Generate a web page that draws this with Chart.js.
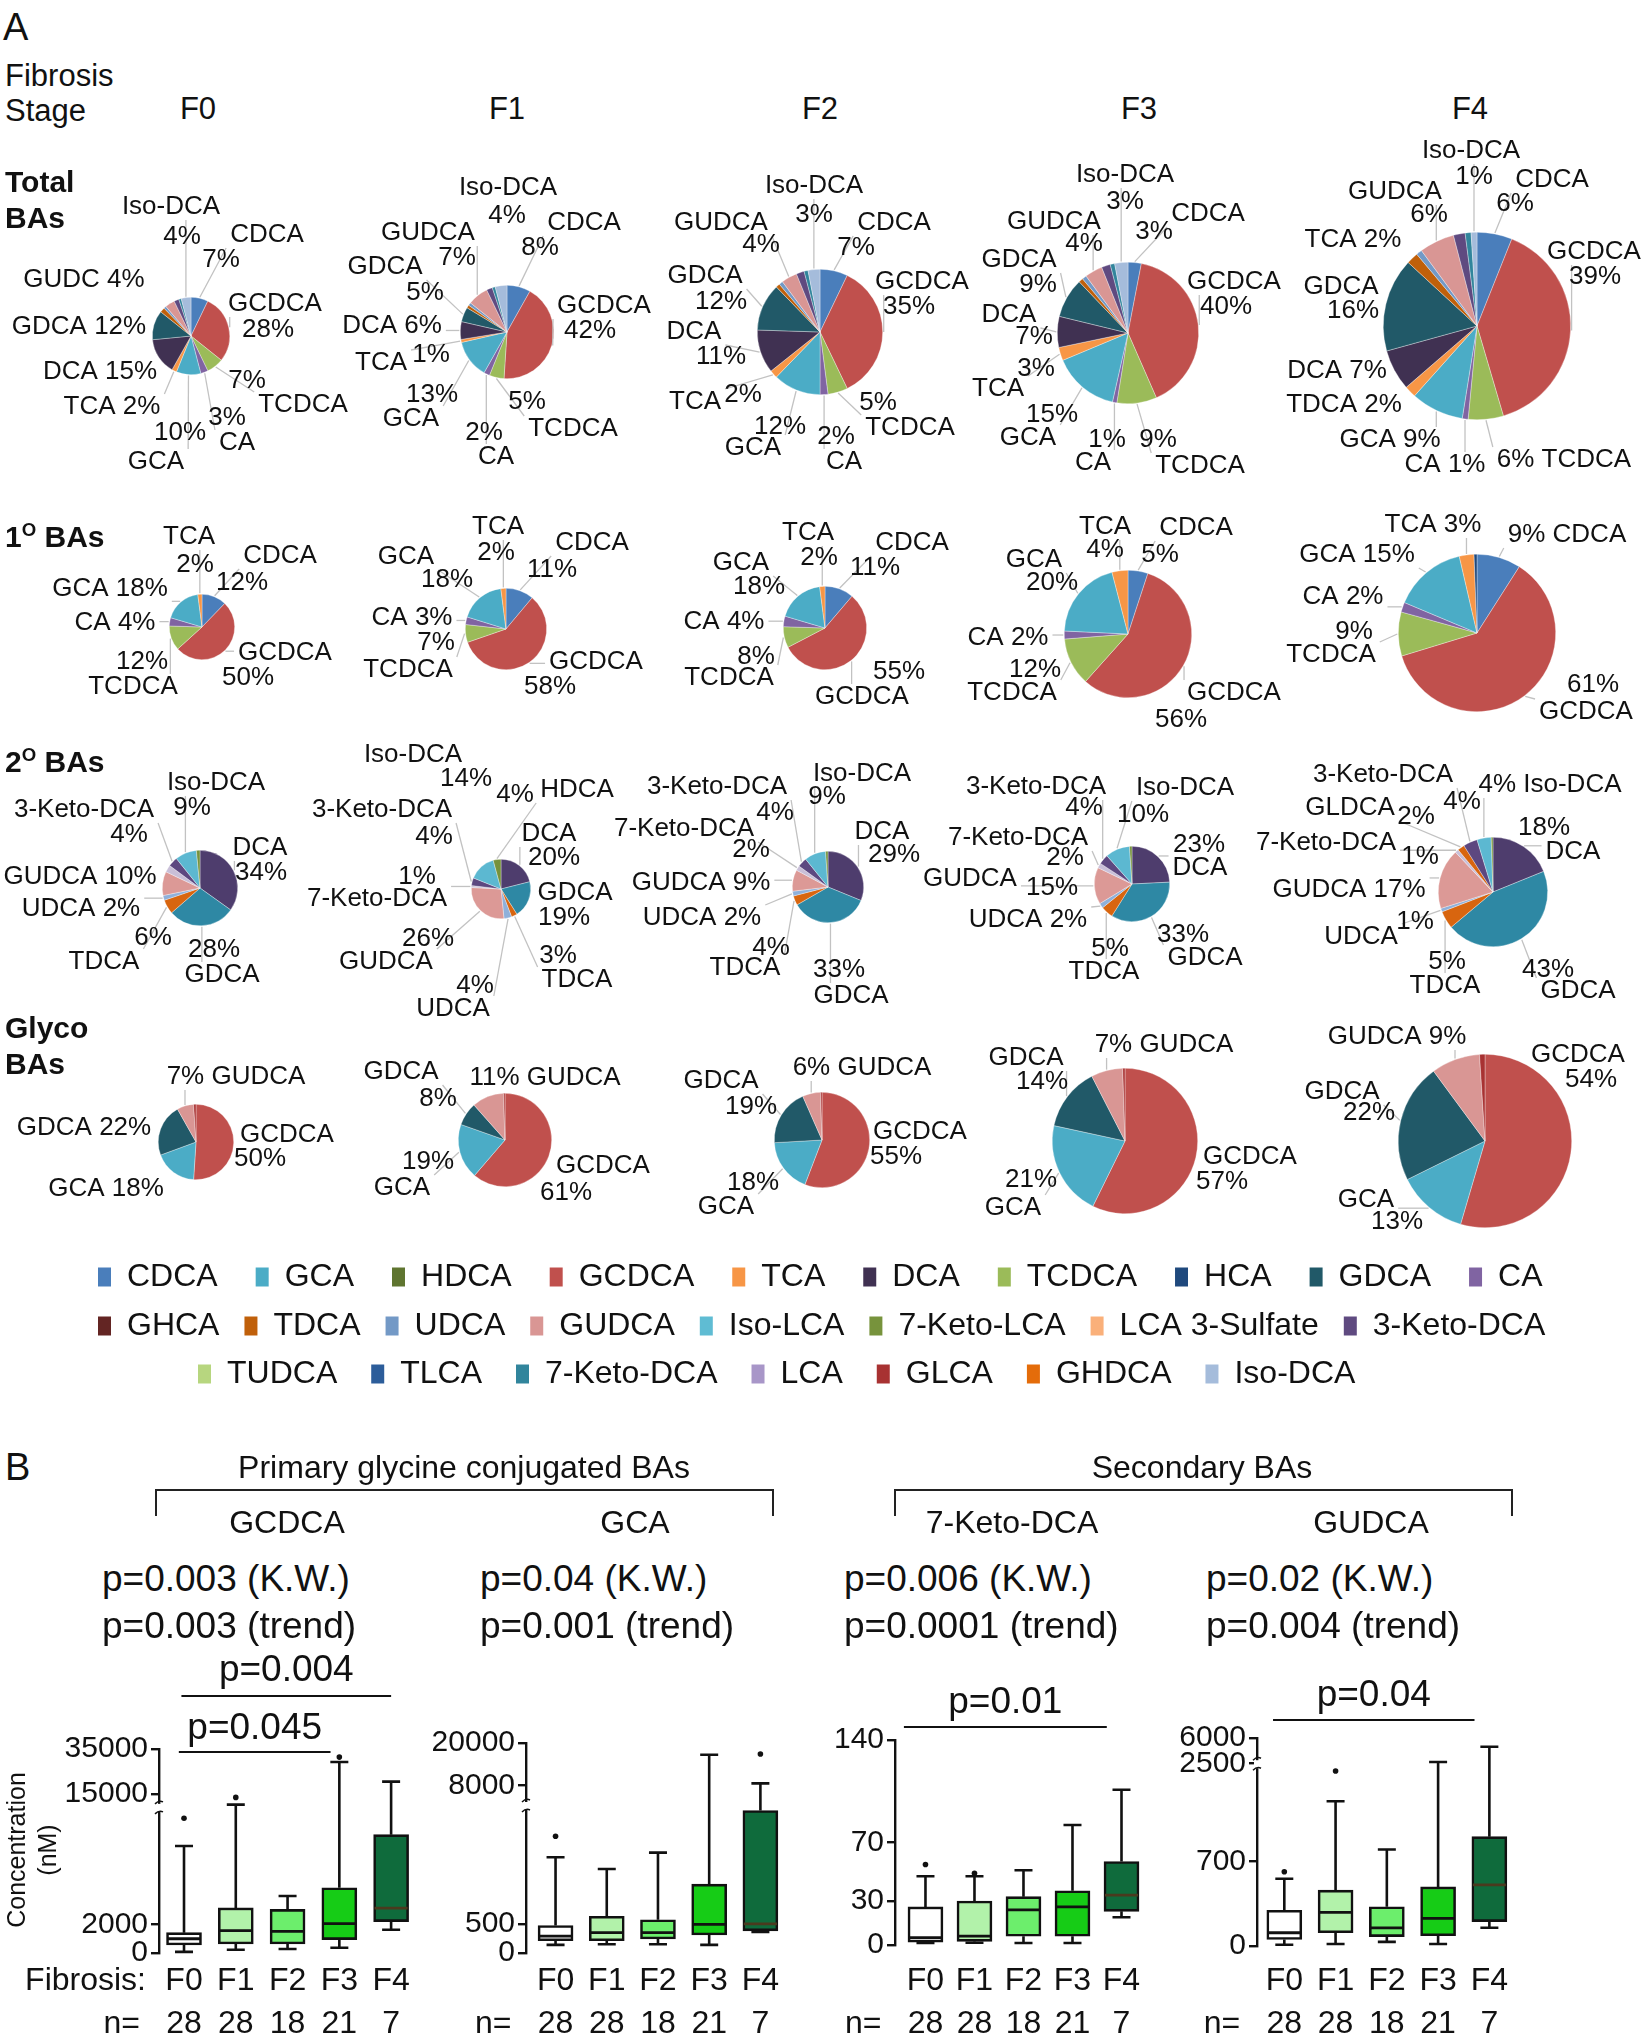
<!DOCTYPE html>
<html><head><meta charset="utf-8">
<script src="https://cdn.jsdelivr.net/npm/chart.js@4.4.1/dist/chart.umd.min.js"></script>
<style>
html,body{margin:0;padding:0;background:#fff;}
#page{position:relative;width:1647px;height:2040px;overflow:hidden;font-family:'Liberation Sans',Arial,Helvetica,sans-serif;color:#111;background:#fff;}
.t{position:absolute;white-space:nowrap;line-height:1;}
canvas{position:absolute;}
.br{position:absolute;border:2px solid #222;border-bottom:none;box-sizing:border-box;}
</style></head><body><div id="page"></div>
<script>
// ---------------- DATA ----------------
const stages = ['F0','F1','F2','F3','F4'];
const nPerStage = [28,28,18,21,7];

const legendNames = ['CDCA','GCA','HDCA','GCDCA','TCA','DCA','TCDCA','HCA','GDCA','CA',
  'GHCA','TDCA','UDCA','GUDCA','Iso-LCA','7-Keto-LCA','LCA 3-Sulfate','3-Keto-DCA',
  'TUDCA','TLCA','7-Keto-DCA','LCA','GLCA','GHDCA','Iso-DCA'];
const legendColors = ['#4a7ebb','#4bacc6','#5f7530','#c0504d','#f79646','#403152','#9bbb59','#1f497d','#215968','#8064a2',
  '#632523','#c0600a','#7399c6','#d99694','#5fbcd3','#77933c','#fab07a','#5f4a80',
  '#b7d67f','#2c5d9a','#31859c','#a896c8','#a83232','#e46c0a','#a5bcdb'];

// Pie slices, clockwise from 12 o'clock, percent of bile acids
const totalNames = ['CDCA','GCDCA','TCDCA','CA','GCA','TCA','DCA','GDCA','TDCA','UDCA','GUDCA','3-Keto-DCA','7-Keto-DCA','Iso-DCA'];
const totalF0 = [7,28,7,3,10,2,15,12,2,1,4,2,1,4];
const totalF1 = [8,42,5,2,13,1,6,5,1,1,7,2,1,4];
const totalF2 = [7,35,5,2,12,2,11,12,1,1,4,2,1,3];
const totalF3 = [3,40,9,1,15,3,7,9,1,1,4,2,1,3];
const totalF4 = [6,39,6,1,9,2,7,16,2,1,6,2,1,1];

const primaryNames = ['CDCA','GCDCA','TCDCA','CA','GCA','TCA','HCA'];
const primaryF0 = [12,50,12,4,18,2,0];
const primaryF1 = [11,58,7,3,18,2,0];
const primaryF2 = [11,55,8,4,18,2,0];
const primaryF3 = [5,56,12,2,20,4,0];
const primaryF4 = [9,61,9,2,15,3,0.6];

const secondaryNames = ['DCA','GDCA','TDCA','UDCA','GUDCA','7-Keto-DCA','GLDCA','3-Keto-DCA','Iso-DCA','HDCA'];
const secondaryF0 = [34,28,6,2,10,3,0,4,9,1.5];
const secondaryF1 = [20,19,3,4,26,1,0,4,14,4];
const secondaryF2 = [29,33,4,2,9,2,0,4,9,1];
const secondaryF3 = [23,33,5,2,15,2,0,4,10,1];
const secondaryF4 = [18,43,5,1,17,1,2,4,4,0.5];

const glycoNames = ['GCDCA','GCA','GDCA','GUDCA','GLCA'];
const glycoF0 = [50,18,22,7,1];
const glycoF1 = [61,19,8,11,0.5];
const glycoF2 = [55,18,19,6,0.5];
const glycoF3 = [57,21,14,7,0.5];
const glycoF4 = [54,13,22,9,1];

// Box plots: [low whisker, Q1, median, Q3, high whisker] per stage (nM)
const gcdcaBox = [[80,560,1000,1425,7500],[225,630,1570,3160,10300],[280,630,1515,3060,4000],[365,940,2060,4575,29200],[1630,2200,3140,8300,20500]];
const gcdcaOut = [[9450],[13500],[],[31400],[]];
const gcdcaTicks = [0,2000,15000,35000];
const gcaBox = [[140,210,290,470,1640],[150,210,350,630,1440],[150,240,350,570,1720],[140,310,490,1180,16700],[360,380,500,2440,8600]];
const gcaOut = [[2000],[],[],[],[16900]];
const gcaTicks = [0,500,8000,20000];
const keto7Box = [[1.4,2,5,26,47],[1.5,2.5,6,30,47],[1.4,6,24,33,51],[1.4,6,26,37,82],[19,23,34,57,106]];
const keto7Out = [[55],[49],[],[],[]];
const keto7Ticks = [0,30,70,140];
const gudcaBox = [[10,54,110,296,557],[17,110,279,463,1200],[34,78,151,325,800],[17,85,229,490,2700],[151,202,507,906,4800]];
const gudcaOut = [[615],[1450],[],[],[]];
const gudcaTicks = [0,700,2500,6000];

// ---------------- LAYOUT / STYLE ----------------
const FONT = "'Liberation Sans', Arial, Helvetica, sans-serif";
Chart.defaults.font.family = FONT;
Chart.defaults.color = '#111';
const page = document.getElementById('page');

function makeCanvas(id, left, top, w, h){
  const c = document.createElement('canvas');
  c.id = id; c.width = Math.round(w); c.height = Math.round(h);
  c.style.left = left+'px'; c.style.top = top+'px';
  c.style.width = Math.round(w)+'px'; c.style.height = Math.round(h)+'px';
  page.appendChild(c); return c;
}
function txt(html, x, y, size, opt){
  opt = opt || {};
  const d = document.createElement('div'); d.className = 't'; d.innerHTML = html;
  d.style.fontSize = size+'px'; d.style.left = x+'px'; d.style.top = y+'px';
  if (opt.bold) d.style.fontWeight = 'bold';
  const ax = opt.anchor === 'c' ? '-50%' : (opt.anchor === 'r' ? '-100%' : '0');
  d.style.transform = 'translate(' + ax + ',-50%)' + (opt.rotate ? ' rotate(' + opt.rotate + 'deg)' : '');
  page.appendChild(d); return d;
}

// pie geometry [cx, cy, r]
const totalGeom = [[191,336,39],[507,332,47],[820,332,63],[1128,333,71],[1477,326,94]];
const primaryGeom = [[202,627,33],[506,629,41],[825,628,42],[1128,634,64],[1477,633,79]];
const secondaryGeom = [[200,888,38],[501,889,30],[828,887,36],[1132,884,38],[1493,892,55]];
const glycoGeom = [[196,1142,38],[505,1140,47],[822,1140,48],[1125,1141,73],[1485,1141,87]];

// pie label placement (text, page x, page y)
const totalLabels = [
 [['Iso-DCA',171,207],['4%',182,237],['CDCA',267,235],['7%',221,260],['GUDC 4%',84,280],['GCDCA',275,304],['28%',268,330],['GDCA 12%',79,327],['DCA 15%',100,372],['7%',247,381],['TCDCA',303,405],['TCA 2%',112,407],['3%',227,418],['CA',237,443],['10%',180,433],['GCA',156,462]],
 [['Iso-DCA',508,188],['4%',507,216],['CDCA',584,223],['8%',540,248],['GUDCA',428,233],['7%',457,258],['GDCA',385,267],['5%',425,293],['GCDCA',604,306],['42%',590,331],['DCA 6%',392,326],['TCA',381,363],['1%',431,355],['13%',432,395],['GCA',411,419],['5%',527,402],['TCDCA',573,429],['2%',484,433],['CA',496,457]],
 [['Iso-DCA',814,186],['3%',814,215],['CDCA',894,223],['7%',856,248],['GUDCA',721,223],['4%',761,245],['GDCA',705,276],['12%',721,302],['GCDCA',922,282],['35%',909,307],['DCA',694,332],['11%',721,357],['TCA',695,402],['2%',743,395],['12%',780,427],['GCA',753,448],['2%',836,437],['CA',844,462],['5%',878,403],['TCDCA',910,428]],
 [['Iso-DCA',1125,175],['3%',1125,202],['CDCA',1208,214],['3%',1154,232],['GUDCA',1054,222],['4%',1084,244],['GDCA',1019,260],['9%',1038,285],['GCDCA',1234,282],['40%',1226,307],['DCA',1009,315],['7%',1034,337],['3%',1036,369],['TCA',998,389],['15%',1052,415],['GCA',1028,438],['1%',1107,440],['CA',1093,463],['9%',1158,440],['TCDCA',1200,466]],
 [['Iso-DCA',1471,151],['1%',1474,177],['CDCA',1552,180],['6%',1515,204],['GUDCA',1395,192],['6%',1429,215],['TCA 2%',1353,240],['GCDCA',1594,252],['39%',1595,277],['GDCA',1341,287],['16%',1353,311],['DCA 7%',1337,371],['TDCA 2%',1344,405],['GCA 9%',1390,440],['CA 1%',1445,465],['6% TCDCA',1564,460]]
];
const primaryLabels = [
 [['TCA',189,537],['2%',195,565],['CDCA',280,556],['12%',242,583],['GCA 18%',110,589],['CA 4%',115,623],['GCDCA',285,653],['50%',248,678],['12%',142,662],['TCDCA',133,687]],
 [['TCA',498,527],['2%',496,553],['CDCA',592,543],['11%',552,570],['GCA',406,557],['18%',447,580],['CA 3%',412,618],['7%',436,643],['TCDCA',408,670],['GCDCA',596,662],['58%',550,687]],
 [['TCA',808,533],['2%',819,558],['CDCA',912,543],['11%',875,568],['GCA',741,563],['18%',759,587],['CA 4%',724,622],['8%',756,657],['TCDCA',729,678],['55%',899,672],['GCDCA',862,697]],
 [['TCA',1105,527],['4%',1105,550],['CDCA',1196,528],['5%',1160,555],['GCA',1034,560],['20%',1052,583],['CA 2%',1008,638],['12%',1035,670],['TCDCA',1012,693],['GCDCA',1234,693],['56%',1181,720]],
 [['TCA 3%',1433,525],['9% CDCA',1567,535],['GCA 15%',1357,555],['CA 2%',1343,597],['9%',1354,632],['TCDCA',1331,655],['61%',1593,685],['GCDCA',1586,712]]
];
const secondaryLabels = [
 [['Iso-DCA',216,783],['9%',192,808],['3-Keto-DCA',84,810],['4%',129,835],['DCA',260,848],['34%',261,873],['GUDCA 10%',80,877],['UDCA 2%',81,909],['6%',153,938],['TDCA',104,962],['28%',214,950],['GDCA',222,975]],
 [['Iso-DCA',413,755],['14%',466,779],['4%',515,795],['HDCA',577,790],['3-Keto-DCA',382,810],['4%',434,837],['DCA',549,834],['20%',554,858],['1%',417,877],['7-Keto-DCA',377,899],['GDCA',575,893],['19%',564,918],['26%',428,939],['GUDCA',386,962],['3%',558,956],['TDCA',577,980],['4%',475,986],['UDCA',453,1009]],
 [['3-Keto-DCA',717,787],['4%',775,813],['Iso-DCA',862,774],['9%',827,797],['7-Keto-DCA',684,829],['2%',751,850],['DCA',882,832],['29%',894,855],['GUDCA 9%',701,883],['UDCA 2%',702,918],['4%',771,948],['TDCA',745,968],['33%',839,970],['GDCA',851,996]],
 [['3-Keto-DCA',1036,787],['4%',1084,808],['Iso-DCA',1185,788],['10%',1143,815],['7-Keto-DCA',1018,838],['2%',1065,858],['23%',1199,845],['DCA',1200,868],['GUDCA',970,879],['15%',1052,888],['UDCA 2%',1028,920],['5%',1110,949],['TDCA',1104,972],['33%',1183,935],['GDCA',1205,958]],
 [['3-Keto-DCA',1383,775],['4%',1462,802],['4% Iso-DCA',1550,785],['GLDCA',1350,808],['2%',1416,817],['18%',1544,828],['DCA',1573,852],['7-Keto-DCA',1326,843],['1%',1420,857],['GUDCA 17%',1349,890],['1%',1415,922],['UDCA',1361,937],['5%',1447,962],['TDCA',1445,986],['43%',1548,970],['GDCA',1578,991]]
];
const glycoLabels = [
 [['7% GUDCA',236,1077],['GDCA 22%',84,1128],['GCDCA',287,1135],['50%',260,1159],['GCA 18%',106,1189]],
 [['GDCA',401,1072],['8%',438,1099],['11% GUDCA',545,1078],['19%',428,1162],['GCA',402,1188],['GCDCA',603,1166],['61%',566,1193]],
 [['GDCA',721,1081],['19%',751,1107],['6% GUDCA',862,1068],['GCDCA',920,1132],['55%',896,1157],['18%',753,1183],['GCA',726,1207]],
 [['GDCA',1026,1058],['14%',1042,1082],['7% GUDCA',1164,1045],['GCDCA',1250,1157],['57%',1222,1182],['21%',1031,1180],['GCA',1013,1208]],
 [['GUDCA 9%',1397,1037],['GCDCA',1578,1055],['54%',1591,1080],['GDCA',1342,1092],['22%',1369,1113],['GCA',1366,1200],['13%',1397,1222]]
];
const secondaryColors = {'DCA':'#4e3d6d','GDCA':'#2e88a4','TDCA':'#d8650f','UDCA':'#8fb0da','GUDCA':'#dc9996',
  '7-Keto-DCA':'#c9bfd8','GLDCA':'#d8650f','3-Keto-DCA':'#5d4880','Iso-DCA':'#5cb8d1','HDCA':'#76923c'};

function colorOf(name, over){
  if (over && over[name]) return over[name];
  const i = legendNames.indexOf(name);
  return i >= 0 ? legendColors[i] : '#999';
}

const pieRows = [
  {key:'tot', names: totalNames, values:[totalF0,totalF1,totalF2,totalF3,totalF4], geom: totalGeom, labels: totalLabels, over:null},
  {key:'pri', names: primaryNames, values:[primaryF0,primaryF1,primaryF2,primaryF3,primaryF4], geom: primaryGeom, labels: primaryLabels, over:null},
  {key:'sec', names: secondaryNames, values:[secondaryF0,secondaryF1,secondaryF2,secondaryF3,secondaryF4], geom: secondaryGeom, labels: secondaryLabels, over:secondaryColors},
  {key:'gly', names: glycoNames, values:[glycoF0,glycoF1,glycoF2,glycoF3,glycoF4], geom: glycoGeom, labels: glycoLabels, over:null}
];

const PW = 540, PH = 380;
const pieLabelPlugin = {
  id: 'pieLabels',
  afterDatasetsDraw(chart){
    const info = chart.options.plugins.pieLabels;
    const ctx = chart.ctx;
    const meta = chart.getDatasetMeta(0);
    ctx.save();
    ctx.font = '26px ' + FONT;
    ctx.textAlign = 'center'; ctx.textBaseline = 'middle';
    const boxes = info.texts.map(t => ({s:t[0], x:t[1]-info.ox, y:t[2]-info.oy, w:ctx.measureText(t[0]).width, h:20}));
    ctx.strokeStyle = '#c2c2c2'; ctx.lineWidth = 1.3;
    meta.data.forEach((arc, i) => {
      const name = info.names[i];
      const re = new RegExp('(^|[\\s%])' + name + '($|[\\s\\d])');
      const b = boxes.find(bx => re.test(bx.s));
      if (!b) return;
      const p = arc.getProps(['x','y','startAngle','endAngle','outerRadius'], true);
      if (p.endAngle - p.startAngle < 0.001) return;
      const mid = (p.startAngle + p.endAngle) / 2;
      const R = p.outerRadius + 1;
      const px = p.x + Math.cos(mid) * R, py = p.y + Math.sin(mid) * R;
      const hx = b.w/2 + 4, hy = b.h/2 + 3;
      const qx = Math.max(b.x - hx, Math.min(px, b.x + hx));
      const qy = Math.max(b.y - hy, Math.min(py, b.y + hy));
      const d = Math.hypot(qx - px, qy - py);
      if (d < 6 || d > 80) return;
      const vx = qx - px, vy = qy - py;
      const tt = Math.max(0, Math.min(1, ((p.x - px) * vx + (p.y - py) * vy) / (vx*vx + vy*vy)));
      const cxn = px + vx*tt, cyn = py + vy*tt;
      if (Math.hypot(cxn - p.x, cyn - p.y) < p.outerRadius - 2) return;
      ctx.beginPath(); ctx.moveTo(px, py); ctx.lineTo(qx, qy); ctx.stroke();
    });
    ctx.fillStyle = '#111';
    boxes.forEach(b => ctx.fillText(b.s, b.x, b.y));
    ctx.restore();
  }
};

pieRows.forEach(row => {
  row.values.forEach((vals, s) => {
    const [cx, cy, r] = row.geom[s];
    const ox = cx - PW/2, oy = cy - PH/2;
    const c = makeCanvas('pie_' + row.key + s, ox, oy, PW, PH);
    new Chart(c, {
      type: 'pie',
      data: { labels: row.names, datasets: [{
        data: vals,
        backgroundColor: row.names.map(n => colorOf(n, row.over)),
        borderColor: 'rgba(255,255,255,0.55)', borderWidth: 0.6, hoverOffset: 0
      }]},
      options: {
        responsive: false, animation: false, events: [],
        layout: { padding: { left: PW/2 - r, right: PW/2 - r, top: PH/2 - r, bottom: PH/2 - r } },
        plugins: { legend: { display: false }, tooltip: { enabled: false },
          pieLabels: { texts: row.labels[s], names: row.names, ox: ox, oy: oy } }
      },
      plugins: [pieLabelPlugin]
    });
  });
});

// ---------------- LEGEND (3 rows) ----------------
const legendRows = [[0,10,98,38,1277],[10,18,98,25,1326],[18,25,198,34,1374]];
legendRows.forEach((lr, k) => {
  const [a, b, x0, pad, yc] = lr;
  const left = x0 - pad, top = yc - pad - 16;
  const c = makeCanvas('legend' + k, left, top, 1647 - left, 150);
  new Chart(c, {
    type: 'bar',
    data: { labels: [], datasets: legendNames.map((n, i) => ({ label: n, data: [], backgroundColor: legendColors[i], borderWidth: 0 })) },
    options: {
      responsive: false, animation: false, events: [],
      layout: { padding: 0, autoPadding: false },
      scales: { x: { display: false }, y: { display: false } },
      plugins: { tooltip: { enabled: false }, legend: { display: true, position: 'top', align: 'start',
        labels: { boxWidth: 13, boxHeight: 19, padding: pad, color: '#111', font: { size: 32, family: FONT },
          filter: (it) => it.datasetIndex >= a && it.datasetIndex < b } } }
    }
  });
});

// ---------------- BROKEN-AXIS SCALE ----------------
const SEGS = {};
class BrokenScale extends Chart.LinearScale {
  getPixelForValue(v){
    const segs = SEGS[this.chart.canvas.id];
    let f = segs[segs.length-1].f1;
    if (v <= segs[0].from) f = segs[0].f0;
    else {
      for (const s of segs){
        if (v <= s.to){ f = s.f0 + (Math.max(v, s.from) - s.from) / (s.to - s.from) * (s.f1 - s.f0); break; }
      }
    }
    return this.getPixelForDecimal(f);
  }
  getValueForPixel(px){
    const f = this.getDecimalForPixel(px);
    const segs = SEGS[this.chart.canvas.id];
    for (const s of segs){
      if (f <= s.f1) return s.from + (Math.max(f, s.f0) - s.f0) / (s.f1 - s.f0) * (s.to - s.from);
    }
    return segs[segs.length-1].to;
  }
}
BrokenScale.id = 'broken';
BrokenScale.defaults = Chart.LinearScale.defaults;
Chart.register(BrokenScale);

const stageFill = ['#ffffff','#b2f2aa','#6cee6c','#16cc16','#0f6b3c'];
const medianColor = ['#111','#111','#111','#111','#4a3a1e'];

const boxPanels = [
  {id:'bpGCDCA', box:gcdcaBox, out:gcdcaOut, ticks:gcdcaTicks,
   segs:[{from:0,to:10000,f0:0,f1:0.699},{from:10000,to:35000,f0:0.724,f1:1}],
   axisX:159, f0x:184, f4x:391, top:1749, bottom:1953, fib:true,
   sig:[{t:'p=0.004', a:-0.05, b:4.0, ly:1696, ty:1671},{t:'p=0.045', a:-0.1, b:2.83, ly:1752, ty:1729}]},
  {id:'bpGCA', box:gcaBox, out:gcaOut, ticks:gcaTicks,
   segs:[{from:0,to:2500,f0:0,f1:0.695},{from:2500,to:20000,f0:0.705,f1:1}],
   axisX:526, f0x:555.5, f4x:760, top:1743, bottom:1953, fib:false, sig:[]},
  {id:'bpK7', box:keto7Box, out:keto7Out, ticks:keto7Ticks,
   segs:[{from:0,to:140,f0:0,f1:1}],
   axisX:895, f0x:925.5, f4x:1121.7, top:1740, bottom:1945, fib:false,
   sig:[{t:'p=0.01', a:-0.44, b:3.7, ly:1727, ty:1703}]},
  {id:'bpGUDCA', box:gudcaBox, out:gudcaOut, ticks:gudcaTicks,
   segs:[{from:0,to:1500,f0:0,f1:0.87},{from:2500,to:6000,f0:0.878,f1:1}],
   axisX:1256.7, f0x:1284, f4x:1489, top:1738, bottom:1946, fib:false,
   sig:[{t:'p=0.04', a:-0.22, b:3.71, ly:1720, ty:1696}]}
];

const CT = 1640, YW = 150;
boxPanels.forEach(P => {
  const unit = (P.f4x - P.f0x) / 4;
  const xMin = -(P.f0x - P.axisX) / unit, xMax = 4.5;
  const right = P.f4x + 0.5 * unit;
  const left = P.axisX - YW;
  const c = makeCanvas(P.id, left, CT, right + 6 - left, 2040 - CT);
  SEGS[P.id] = P.segs;
  const extras = {
    id: 'boxExtras',
    afterDatasetsDraw(chart){
      const ctx = chart.ctx, xs = chart.scales.x, ys = chart.scales.y;
      const py = v => ys.getPixelForValue(v);
      ctx.save();
      P.box.forEach((b, i) => {
        const x = xs.getPixelForValue(i);
        ctx.strokeStyle = '#111'; ctx.lineWidth = 2.6;
        ctx.beginPath();
        ctx.moveTo(x, py(b[0])); ctx.lineTo(x, py(b[1]));
        ctx.moveTo(x, py(b[3])); ctx.lineTo(x, py(b[4]));
        ctx.moveTo(x - 9, py(b[0])); ctx.lineTo(x + 9, py(b[0]));
        ctx.moveTo(x - 9, py(b[4])); ctx.lineTo(x + 9, py(b[4]));
        ctx.stroke();
        ctx.strokeStyle = medianColor[i]; ctx.lineWidth = 2.8;
        ctx.beginPath(); ctx.moveTo(x - 16.5, py(b[2])); ctx.lineTo(x + 16.5, py(b[2])); ctx.stroke();
        ctx.fillStyle = '#111';
        P.out[i].forEach(v => { ctx.beginPath(); ctx.arc(x, py(v), 2.8, 0, Math.PI * 2); ctx.fill(); });
      });
      const ax = chart.chartArea.left;
      for (let k = 0; k < P.segs.length - 1; k++){
        const yA = ys.getPixelForDecimal(P.segs[k].f1), yB = ys.getPixelForDecimal(P.segs[k+1].f0);
        const cy = (yA + yB) / 2;
        ctx.fillStyle = '#fff'; ctx.fillRect(ax - 3, cy - 4, 6, 8);
        ctx.strokeStyle = '#111'; ctx.lineWidth = 1.5;
        ctx.beginPath();
        ctx.moveTo(ax - 4, cy + 6); ctx.quadraticCurveTo(ax, cy + 2, ax + 4, cy + 4);
        ctx.moveTo(ax - 4, cy - 4); ctx.quadraticCurveTo(ax, cy - 8, ax + 4, cy - 6);
        ctx.stroke();
      }
      ctx.fillStyle = '#111'; ctx.font = '32px ' + FONT; ctx.textBaseline = 'middle'; ctx.textAlign = 'center';
      stages.forEach((s, i) => {
        const x = xs.getPixelForValue(i);
        ctx.fillText(s, x, 1981 - CT);
        ctx.fillText(String(nPerStage[i]), x, 2024 - CT);
      });
      ctx.textAlign = 'right';
      ctx.fillText('n=', xs.getPixelForValue(0) - 44, 2024 - CT);
      if (P.fib) ctx.fillText('Fibrosis:', xs.getPixelForValue(0) - 38, 1981 - CT);
      ctx.textAlign = 'center'; ctx.font = '37px ' + FONT;
      P.sig.forEach(sg => {
        const xa = xs.getPixelForValue(sg.a), xb = xs.getPixelForValue(sg.b);
        ctx.strokeStyle = '#111'; ctx.lineWidth = 2;
        ctx.beginPath(); ctx.moveTo(xa, sg.ly - CT); ctx.lineTo(xb, sg.ly - CT); ctx.stroke();
        ctx.fillText(sg.t, (xa + xb) / 2, sg.ty - CT);
      });
      ctx.restore();
    }
  };
  new Chart(c, {
    type: 'bar',
    data: { datasets: [{
      data: P.box.map((b, i) => ({ x: i, y: [b[1], b[3]] })),
      backgroundColor: stageFill, borderColor: '#111', borderWidth: 2.6, borderSkipped: false, barThickness: 35
    }]},
    options: {
      responsive: false, animation: false, events: [],
      layout: { autoPadding: false, padding: { left: 0, right: 6, top: P.top - CT, bottom: 2040 - P.bottom } },
      scales: {
        x: { type: 'linear', display: false, min: xMin, max: xMax, offset: false },
        y: { type: 'broken', min: 0, max: P.ticks[P.ticks.length - 1],
             afterBuildTicks: (axis) => { axis.ticks = P.ticks.map(v => ({ value: v })); },
             afterFit: (scale) => { scale.width = YW; },
             border: { display: true, color: '#111', width: 2.4 },
             grid: { drawOnChartArea: false, drawTicks: true, tickLength: 8, color: '#111', lineWidth: 2.4 },
             ticks: { color: '#111', font: { size: 30, family: FONT }, padding: 3, callback: (v) => String(v) } }
      },
      plugins: { legend: { display: false }, tooltip: { enabled: false } }
    },
    plugins: [extras]
  });
});

// ---------------- TEXT ----------------
txt('A', 3, 27, 38);
txt('Fibrosis', 5, 75, 31);
txt('Stage', 5, 110, 31);
[198,507,820,1139,1470].forEach((x, i) => txt(stages[i], x, 108, 31, {anchor:'c'}));
txt('Total', 5, 182, 30, {bold:true});
txt('BAs', 5, 218, 30, {bold:true});
txt('1<sup style="font-size:62%;line-height:0">O</sup> BAs', 5, 537, 30, {bold:true});
txt('2<sup style="font-size:62%;line-height:0">O</sup> BAs', 5, 762, 30, {bold:true});
txt('Glyco', 5, 1028, 30, {bold:true});
txt('BAs', 5, 1064, 30, {bold:true});

txt('B', 5, 1467, 38);
txt('Primary glycine conjugated BAs', 464, 1467, 32, {anchor:'c'});
txt('Secondary BAs', 1202, 1467, 32, {anchor:'c'});
[[155,619],[894,619]].forEach(([l, w]) => {
  const d = document.createElement('div'); d.className = 'br';
  d.style.left = l + 'px'; d.style.top = '1489px'; d.style.width = w + 'px'; d.style.height = '27px';
  page.appendChild(d);
});
txt('GCDCA', 287, 1522, 32, {anchor:'c'});
txt('GCA', 635, 1522, 32, {anchor:'c'});
txt('7-Keto-DCA', 1012, 1522, 32, {anchor:'c'});
txt('GUDCA', 1371, 1522, 32, {anchor:'c'});
[['p=0.003 (K.W.)','p=0.003 (trend)',102],['p=0.04 (K.W.)','p=0.001 (trend)',480],
 ['p=0.006 (K.W.)','p=0.0001 (trend)',844],['p=0.02 (K.W.)','p=0.004 (trend)',1206]].forEach(([a, b, x]) => {
  txt(a, x, 1578, 37); txt(b, x, 1625, 37);
});
txt('Concentration', 16, 1850, 25, {anchor:'c', rotate:-90});
txt('(nM)', 47, 1850, 25, {anchor:'c', rotate:-90});
</script></body></html>
